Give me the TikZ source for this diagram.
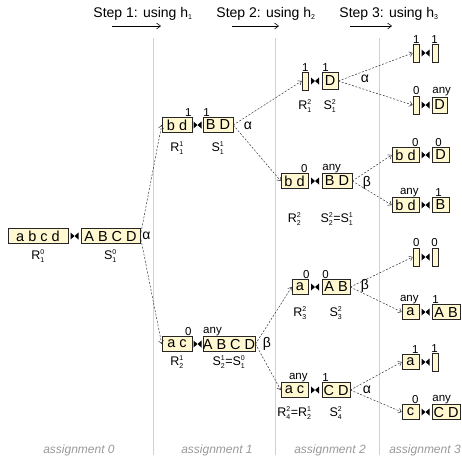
\documentclass[tikz,border=0pt]{standalone}
\usepackage{fontspec}
\setmainfont{Liberation Sans}
\usetikzlibrary{arrows.meta}
\definecolor{boxfill}{RGB}{255,248,208}
\newcommand\lsx[3]{\(\mbox{#1}^{\mbox{\fontsize{7}{7}\selectfont #2}}_{\mbox{\fontsize{7}{7}\selectfont #3}}\)}
\newcommand\hsb[1]{\(\mbox{h}_{\mbox{\fontsize{7}{7}\selectfont #1}}\)}
\tikzset{
 box/.style={draw=black!85, fill=boxfill, line width=0.6pt, inner sep=0pt, minimum height=15pt, font=\fontsize{14.5}{14.5}\selectfont},
 ebox/.style={box, minimum width=6pt, minimum height=18pt},
 jn/.style={inner sep=0pt, minimum width=8pt, minimum height=7pt, path picture={
   \fill[black] (path picture bounding box.north west) -- (path picture bounding box.south west) -- (path picture bounding box.center) -- cycle;
   \fill[black] (path picture bounding box.north east) -- (path picture bounding box.south east) -- (path picture bounding box.center) -- cycle;}},
 conn/.style={dash pattern=on 2pt off 1.6pt, draw=black!80, line width=0.5pt, -{Straight Barb[length=3pt,width=5pt]}},
 num/.style={font=\fontsize{11.5}{12}\selectfont, inner sep=0.5pt},
 lbl/.style={font=\fontsize{12.5}{13}\selectfont, inner sep=0pt},
 greek/.style={font=\fontsize{14}{14}\selectfont, inner sep=0pt},
 sepline/.style={draw=black!18, line width=0.7pt},
 asg/.style={font=\itshape\fontsize{12}{12}\selectfont, text=black!40},
 steptxt/.style={font=\fontsize{14}{14}\selectfont, inner sep=0pt},
 steparrow/.style={line width=0.6pt, -{Straight Barb[length=4pt,width=6pt]}},
}
\begin{document}
\begin{tikzpicture}[x=1pt,y=-1pt]
\useasboundingbox (0,0) rectangle (462,459);
% separators
\foreach \i/\xx in {1/153,2/275,3/379}{
  \coordinate (st\i) at (\xx,38);
  \coordinate (sb\i) at (\xx,455);
  \draw[sepline] (st\i) -- (sb\i);
}
% steps
\node[steptxt] (step1) at (143,14) {Step 1: using \hsb{1}};
\node[steptxt] (step2) at (266,14) {Step 2: using \hsb{2}};
\node[steptxt] (step3) at (389,14) {Step 3: using \hsb{3}};
\coordinate (a1s) at (112,26); \coordinate (a1e) at (161,26);
\coordinate (a2s) at (232,26); \coordinate (a2e) at (279,26);
\coordinate (a3s) at (350,26); \coordinate (a3e) at (392,26);
\draw[steparrow] (a1s) -- (a1e);
\draw[steparrow] (a2s) -- (a2e);
\draw[steparrow] (a3s) -- (a3e);
% assignments
\node[asg] (as0) at (79,450) {assignment 0};
\node[asg] (as1) at (217,450) {assignment 1};
\node[asg] (as2) at (330,450) {assignment 2};
\node[asg] (as3) at (425,450) {assignment 3};

% root
\node[box, minimum width=60pt] (r0) at (38,236) {a b c d};
\node[jn] (j0) at (74.5,236) {};
\node[box, minimum width=59pt] (s0) at (110.5,236) {A B C D};
\node[lbl] (lr0) at (r0 |- 0,256) {\lsx{R}{0}{1}};
\node[lbl] (ls0) at (s0 |- 0,256) {\lsx{S}{0}{1}};
\node[greek] (g0) at (146.5,236) {α};

% level 1 top
\node[box, minimum width=30pt] (r11) at (177,125) {b d};
\node[jn] (j11) at (197.5,125) {};
\node[box, minimum width=30pt] (s11) at (218,125) {B D};
\node[num, anchor=south east] (n11a) at (r11.north east) {1};
\node[num, anchor=south west] (n11b) at (s11.north west) {1};
\node[lbl] (lr11) at (r11 |- 0,148) {\lsx{R}{1}{1}};
\node[lbl] (ls11) at (s11 |- 0,148) {\lsx{S}{1}{1}};
\node[greek] (g11) at (248,126) {α};

% level 1 bottom
\node[box, minimum width=30pt] (r12) at (177,344) {a c};
\node[jn] (j12) at (197.5,344) {};
\node[box, minimum width=52pt] (s12) at (229,344) {A B C D};
\node[num, anchor=south east] (n12a) at (r12.north east) {0};
\node[num, anchor=south west] (n12b) at (s12.north west) {any};
\node[lbl] (lr12) at (r12 |- 0,362) {\lsx{R}{1}{2}};
\node[lbl] (ls12) at (s12 |- 0,362) {\lsx{S}{1}{2}=\lsx{S}{0}{1}};
\node[greek] (g12) at (267,344) {β};

% level 2 A
\node[ebox] (ra) at (305,81) {};
\node[jn] (ja) at (315,81) {};
\node[box, minimum width=16pt, minimum height=17pt] (sa) at (330,81) {D};
\node[num, anchor=south east] (naa) at ([xshift=1pt]ra.north east) {1};
\node[num, anchor=south west] (nab) at (sa.north west) {1};
\node[lbl] (lra) at (ra |- 0,106) {\lsx{R}{2}{1}};
\node[lbl] (lsa) at (sa |- 0,106) {\lsx{S}{2}{1}};
\node[greek] (ga) at (365,79) {α};

% level 2 B
\node[box, minimum width=27pt] (rb) at (294.5,181) {b d};
\node[jn] (jb) at (315,181) {};
\node[box, minimum width=30pt] (sb) at (337,181) {B D};
\node[num, anchor=south east] (nba) at (rb.north east) {0};
\node[num, anchor=south west] (nbb) at (sb.north west) {any};
\node[lbl] (lrb) at (rb |- 0,219) {\lsx{R}{2}{2}};
\node[lbl] (lsb) at (sb |- 0,219) {\lsx{S}{2}{2}=\lsx{S}{1}{1}};
\node[greek] (gb) at (367,183) {β};

% level 2 C
\node[box, minimum width=16pt] (rc) at (300,287) {a};
\node[jn] (jc) at (315,287) {};
\node[box, minimum width=28pt] (sc) at (336,287) {A B};
\node[num, anchor=south east] (nca) at ([xshift=2pt]rc.north east) {0};
\node[num, anchor=south west] (ncb) at (sc.north west) {0};
\node[lbl] (lrc) at (rc |- 0,313) {\lsx{R}{2}{3}};
\node[lbl] (lsc) at (sc |- 0,313) {\lsx{S}{2}{3}};
\node[greek] (gc) at (365,286) {β};

% level 2 D
\node[box, minimum width=27pt] (rd) at (294.5,390) {a c};
\node[jn] (jd) at (315,390) {};
\node[box, minimum width=28pt] (sd) at (336,390) {C D};
\node[num, anchor=south east] (nda) at (rd.north east) {any};
\node[num, anchor=south west] (ndb) at (sd.north west) {1};
\node[lbl] (lrd) at (rd |- 0,413) {\lsx{R}{2}{4}=\lsx{R}{1}{2}};
\node[lbl] (lsd) at (sd |- 0,413) {\lsx{S}{2}{4}};
\node[greek] (gd) at (367,390) {α};

% level 3 leaves
\node[ebox] (l1r) at (416,53) {};
\node[jn] (l1j) at (425.5,53) {};
\node[ebox] (l1s) at (435,53) {};
\node[num, anchor=south east] (l1a) at ([xshift=1pt]l1r.north east) {1};
\node[num, anchor=south west] (l1b) at ([xshift=-1pt]l1s.north west) {1};

\node[ebox] (l2r) at (416,105) {};
\node[jn] (l2j) at (425.5,105) {};
\node[box, minimum width=15pt, minimum height=16pt] (l2s) at (439.5,105) {D};
\node[num, anchor=south east] (l2a) at ([xshift=1pt]l2r.north east) {0};
\node[num, anchor=south west] (l2b) at (l2s.north west) {any};

\node[box, minimum width=27pt] (l3r) at (405.5,155) {b d};
\node[jn] (l3j) at (425.5,155) {};
\node[box, minimum width=17pt] (l3s) at (440.5,155) {D};
\node[num, anchor=south east] (l3a) at (l3r.north east) {0};
\node[num, anchor=south west] (l3b) at ([xshift=3pt]l3s.north west) {0};

\node[box, minimum width=27pt] (l4r) at (405.5,205) {b d};
\node[jn] (l4j) at (425.5,205) {};
\node[box, minimum width=17pt] (l4s) at (440.5,205) {B};
\node[num, anchor=south east] (l4a) at (l4r.north east) {any};
\node[num, anchor=south west] (l4b) at ([xshift=3pt]l4s.north west) {1};

\node[ebox] (l5r) at (416,257) {};
\node[jn] (l5j) at (425.5,257) {};
\node[ebox] (l5s) at (435,257) {};
\node[num, anchor=south east] (l5a) at ([xshift=1pt]l5r.north east) {0};
\node[num, anchor=south west] (l5b) at ([xshift=-1pt]l5s.north west) {0};

\node[box, minimum width=17pt] (l6r) at (410.5,312) {a};
\node[jn] (l6j) at (425.5,312) {};
\node[box, minimum width=28pt] (l6s) at (446,312) {A B};
\node[num, anchor=south east] (l6a) at (l6r.north east) {any};
\node[num, anchor=south west] (l6b) at (l6s.north west) {1};

\node[box, minimum width=17pt] (l7r) at (410.5,362) {a};
\node[jn] (l7j) at (425.5,362) {};
\node[ebox] (l7s) at (435,362) {};
\node[num, anchor=south east] (l7a) at (l7r.north east) {1};
\node[num, anchor=south west] (l7b) at ([xshift=-1pt]l7s.north west) {1};

\node[box, minimum width=17pt] (l8r) at (410.5,412) {c};
\node[jn] (l8j) at (425.5,412) {};
\node[box, minimum width=28pt] (l8s) at (446,412) {C D};
\node[num, anchor=south east] (l8a) at (l8r.north east) {0};
\node[num, anchor=south west] (l8b) at (l8s.north west) {any};

% connectors
\draw[conn] (s0.east) -- (r11.west);
\draw[conn] (s0.east) -- (r12.west);
\draw[conn] (s11.east) -- (ra.west);
\draw[conn] (s11.east) -- (rb.west);
\draw[conn] (s12.east) -- (rc.west);
\draw[conn] (s12.east) -- (rd.west);
\draw[conn] (sa.east) -- (l1r.west);
\draw[conn] (sa.east) -- (l2r.west);
\draw[conn] (sb.east) -- (l3r.west);
\draw[conn] (sb.east) -- (l4r.west);
\draw[conn] (sc.east) -- (l5r.west);
\draw[conn] (sc.east) -- (l6r.west);
\draw[conn] (sd.east) -- (l7r.west);
\draw[conn] (sd.east) -- (l8r.west);
\end{tikzpicture}
\end{document}
